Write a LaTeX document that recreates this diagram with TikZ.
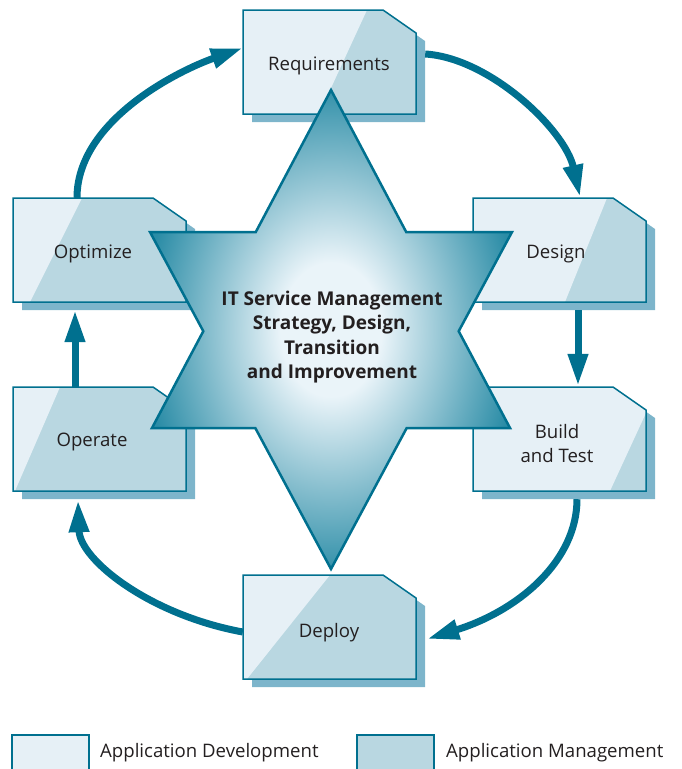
\documentclass[tikz,border=0pt]{standalone}
\usepackage{fontspec}
\setmainfont{Open Sans}
\usetikzlibrary{arrows.meta}
\definecolor{teal1}{RGB}{0,112,143}
\definecolor{boxlight}{RGB}{230,240,246}
\definecolor{boxdark}{RGB}{185,215,225}
\definecolor{boxshadow}{RGB}{125,181,203}
\definecolor{starin}{RGB}{234,244,249}
\definecolor{starout}{RGB}{42,140,166}
\definecolor{txt}{RGB}{35,31,32}
\pgfdeclareradialshading{starshade}{\pgfpoint{0bp}{0bp}}{color(0bp)=(starin); color(7bp)=(starin); color(26bp)=(starout); color(50bp)=(starout)}
\tikzset{
  boxline/.style={draw=teal1, line width=1.5pt, line join=miter},
  boxnode/.style={minimum width=173pt, minimum height=104pt, inner sep=0pt},
  flow/.style={draw=teal1, line width=7pt, -{Triangle[length=32pt,width=19pt]}},
  lbl/.style={font=\fontsize{18.6}{24}\selectfont, text=txt, align=center, inner sep=0pt},
  corelbl/.style={font=\fontsize{19}{24.5}\selectfont\bfseries, text=txt, align=center, inner sep=0pt},
  legbox/.style={draw=teal1, line width=1.5pt, minimum width=77pt, minimum height=36pt, inner sep=0pt},
}
% #1 name, #2 x0, #3 y0, #4 diagonal x at top (local), #5 diagonal x at bottom (local)
\newcommand\itbox[5]{%
  \begin{scope}[shift={(#2,#3)}]
    \fill[boxshadow] (9,8) -- (149,8) -- (182,31) -- (182,112) -- (9,112) -- cycle;
    \begin{scope}
      \clip (0,0) -- (140,0) -- (173,23) -- (173,104) -- (0,104) -- cycle;
      \fill[boxdark] (-5,-5) rectangle (180,110);
      \fill[boxlight] (-5,0) -- (#4,0) -- (#5,104) -- (-5,104) -- cycle;
    \end{scope}
    \draw[boxline] (0,0) -- (140,0) -- (173,23) -- (173,104) -- (0,104) -- cycle;
    \node[boxnode] (#1) at (86.5,52) {};
  \end{scope}}
\begin{document}
\begin{tikzpicture}[x=1pt,y=-1pt]
\useasboundingbox (0,0) rectangle (681,769);

% boxes
\itbox{req}{243}{10}{124}{76}
\itbox{des}{473}{198}{134}{92}
\itbox{bld}{473}{387}{185}{137}
\itbox{dep}{243}{575}{87}{4}
\itbox{ope}{13}{387}{47}{2}
\itbox{opt}{13}{198}{69}{17}

% arrows
\draw[flow] ([xshift=-22.5pt]opt.north) .. controls (77,120) and (180,70) .. ([yshift=14pt]req.west);
\draw[flow] ([shift={(9pt,8pt)}]req.east) .. controls (490,58) and (565,130) .. ([shift={(20.5pt,1pt)}]des.north);
\draw[flow] ([shift={(18.5pt,-8pt)}]des.south) -- ([shift={(18.5pt,1pt)}]bld.north);
\draw[flow] ([shift={(17.5pt,-8pt)}]bld.south) .. controls (577,560) and (520,610) .. ([shift={(11pt,-12pt)}]dep.east);
\draw[flow] ([yshift=-5pt]dep.west) .. controls (150,615) and (80,560) .. ([shift={(-21.5pt,-9pt)}]ope.south);
\draw[flow] ([xshift=-24.5pt]ope.north) -- ([shift={(-24.5pt,-8pt)}]opt.south);

% star
\path[shading=starshade, draw=teal1, line width=2.5pt, line join=miter]
  (331,90) -- (406.2,232) -- (512,232) -- (458.7,331.2) -- (510,428) -- (406.7,428)
  -- (331,569) -- (255.3,428) -- (152,428) -- (203.3,331.2) -- (150,232) -- (255.8,232) -- cycle;
\node[corelbl] (core) at (332,337) {IT Service Management\\Strategy, Design,\\Transition\\and Improvement};

% box labels
\node[lbl] (reqt) at (329,66) {Requirements};
\node[lbl] (dest) at (556,254) {Design};
\node[lbl] (bldt) at (557,444) {Build\\and Test};
\node[lbl] (dept) at (329,633) {Deploy};
\node[lbl] (optt) at (93,254) {Optimize};
\node[lbl] (opet) at (92,442) {Operate};

% legend
\node[legbox, fill=boxlight] (leg1) at (50.5,753) {};
\node[lbl, anchor=west] (leg1t) at (100,753) {Application Development};
\node[legbox, fill=boxdark] (leg2) at (395.5,753) {};
\node[lbl, anchor=west] (leg2t) at (446,753) {Application Management};
\end{tikzpicture}
\end{document}
